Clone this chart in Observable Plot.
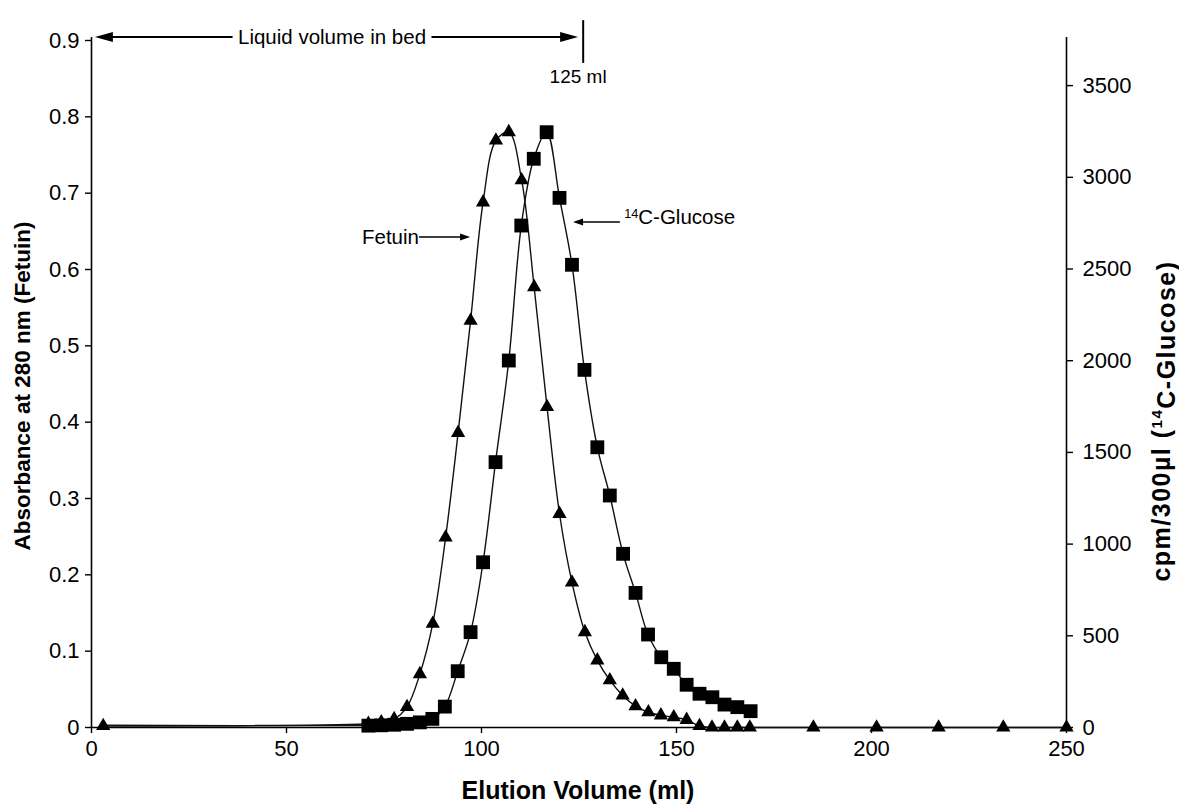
<!DOCTYPE html>
<html><head><meta charset="utf-8">
<script src="https://cdn.jsdelivr.net/npm/d3@7"></script>
<script src="https://cdn.jsdelivr.net/npm/@observablehq/plot@0.6"></script>
<style>
body{margin:0;background:#fff}
svg{font-family:"Liberation Sans",Arial,sans-serif}
</style>
</head><body><div id="chart"></div>
<script>
// Fetuin (absorbance at 280 nm, left axis)
const fetuinVol = [3, 71, 74.3, 77.6, 80.9, 84.2, 87.5, 90.8, 94.0, 97.2, 100.4, 103.7, 107.0, 110.3, 113.5, 116.8, 120.0, 123.2, 126.5, 129.7, 132.9, 136.2, 139.5, 142.8, 146.0, 149.3, 152.6, 155.9, 159.1, 162.3, 165.6, 168.8, 185.1, 201.3, 217.2, 233.8, 250];
const fetuinAbs = [0.002, 0.005, 0.007, 0.011, 0.027, 0.070, 0.136, 0.249, 0.386, 0.533, 0.688, 0.769, 0.780, 0.717, 0.577, 0.420, 0.280, 0.190, 0.125, 0.088, 0.062, 0.042, 0.028, 0.020, 0.016, 0.0135, 0.010, 0.002, 0, 0, 0, 0, 0, 0, 0, 0, 0];
// 14C-Glucose (cpm/300 µl, right axis)
const glucoseVol = [3, 71, 74.3, 77.6, 80.9, 84.2, 87.4, 90.6, 93.9, 97.2, 100.4, 103.6, 107.0, 110.2, 113.4, 116.7, 120.0, 123.2, 126.4, 129.7, 132.9, 136.3, 139.5, 142.7, 146.1, 149.3, 152.6, 155.9, 159.2, 162.3, 165.6, 169.0];
const glucoseCpm = [12, 10, 12, 15, 20, 28, 47, 114, 307, 520, 901, 1447, 2001, 2737, 3101, 3246, 2888, 2523, 1950, 1528, 1265, 947, 734, 507, 383, 320, 233, 184, 165, 125, 111, 89];

const xTicks = [0, 50, 100, 150, 200, 250];
const leftTicks = [0, 0.1, 0.2, 0.3, 0.4, 0.5, 0.6, 0.7, 0.8, 0.9];
const rightTicks = [0, 500, 1000, 1500, 2000, 2500, 3000, 3500];
const leftMax = 0.9;
const rightMax = 3746;           // cpm value at the top of the left axis (0.9)
const k = leftMax / rightMax;    // cpm -> left-axis units

const fetuin = fetuinVol.map((v, i) => ({v, a: fetuinAbs[i]}));
const glucose = glucoseVol.map((v, i) => ({v, c: glucoseCpm[i], a: glucoseCpm[i] * k}));

const TICK = 22, NOTE = 20.5;

const plot = Plot.plot({
  width: 1179, height: 810,
  marginLeft: 91, marginRight: 113, marginTop: 40, marginBottom: 83,
  x: {domain: [0, 250]},
  y: {domain: [0, leftMax]},
  style: {fontFamily: '"Liberation Sans", Arial, sans-serif', fontSize: TICK + "px", color: "#000", background: "#fff", overflow: "visible"},
  marks: [
    Plot.ruleY([0], {stroke: "#000", strokeWidth: 1.6}),
    Plot.ruleX([0, 250], {y1: 0, y2: 0.904, stroke: "#000", strokeWidth: 1.6}),
    Plot.axisX(xTicks, {tickSize: 6, tickPadding: 7, label: null, fontSize: TICK, strokeWidth: 1.4}),
    Plot.axisY(leftTicks, {anchor: "left", tickSize: 6, tickPadding: 6, label: null, fontSize: TICK, strokeWidth: 1.4,
      tickFormat: d => d === 0 ? "0" : d.toFixed(1)}),
    Plot.axisY(rightTicks.map(t => t * k), {anchor: "right", tickSize: 6, tickPadding: 10, label: null, fontSize: TICK, strokeWidth: 1.4,
      tickFormat: d => String(Math.round(d / k))}),
    Plot.line(fetuin, {x: "v", y: "a", curve: "catmull-rom", stroke: "#111", strokeWidth: 1.4}),
    Plot.line(glucose, {x: "v", y: "a", curve: "catmull-rom", stroke: "#111", strokeWidth: 1.4}),
    Plot.dot(glucose.filter(d => d.v > 50), {x: "v", y: "a", symbol: "square", r: 7.8, fill: "#000", stroke: null}),
    Plot.dot(fetuin, {x: "v", y: "a", symbol: "triangle", r: 5.3, fill: "#000", stroke: null})
  ]
});
document.getElementById("chart").appendChild(plot);

// ---- annotations, positioned through the plot's own scales ----
const X = v => plot.scale("x").apply(v);
const Y = v => plot.scale("y").apply(v);
const svg = d3.select(plot);
const g = svg.append("g").attr("fill", "#000").attr("stroke", "none").attr("text-anchor", "start");

function arrowHead(xTip, yTip, dir, len, halfW) {
  g.append("path")
    .attr("d", `M${xTip},${yTip}L${xTip - dir * len},${yTip - halfW}L${xTip - dir * len},${yTip + halfW}Z`)
    .attr("fill", "#000");
}
function hline(x1, x2, y, w) {
  g.append("line").attr("x1", x1).attr("x2", x2).attr("y1", y).attr("y2", y)
    .attr("stroke", "#000").attr("stroke-width", w);
}

// Liquid volume in bed (double arrow up to 125 ml)
const bedY = Y(0.904);
hline(X(1.0) + 14, X(36.3), bedY, 2);
hline(X(87.3), X(124.9) - 14, bedY, 2);
arrowHead(X(1.0), bedY, -1, 18, 5);
arrowHead(X(124.9), bedY, 1, 18, 5);
g.append("text").attr("x", X(61.8)).attr("y", bedY).attr("text-anchor", "middle")
  .attr("dy", "0.35em").attr("font-size", NOTE).text("Liquid volume in bed");
g.append("line").attr("x1", X(126.2)).attr("x2", X(126.2)).attr("y1", Y(0.926)).attr("y2", Y(0.870))
  .attr("stroke", "#000").attr("stroke-width", 2);
g.append("text").attr("x", X(124.9)).attr("y", Y(0.853)).attr("text-anchor", "middle")
  .attr("dy", "0.35em").attr("font-size", 19).text("125 ml");

// Fetuin label
const fy = Y(0.642);
g.append("text").attr("x", X(84.1)).attr("y", fy).attr("text-anchor", "end")
  .attr("dy", "0.35em").attr("font-size", NOTE).text("Fetuin");
hline(X(84.1), X(97.2) - 9, fy, 1.4);
arrowHead(X(97.2), fy, 1, 10, 3.5);

// 14C-Glucose label
const gy = Y(0.6616);
hline(X(135.6), X(123.6) + 9, gy, 1.4);
arrowHead(X(123.6), gy, -1, 10, 3.5);
const gt = g.append("text").attr("x", X(136.7)).attr("y", gy).attr("dy", "0.35em")
  .attr("font-size", NOTE).attr("text-anchor", "start");
gt.append("tspan").attr("font-size", NOTE * 0.62).attr("dy", "-0.3em").text("14");
gt.append("tspan").attr("dy", "0.3em").text("C-Glucose");

// Axis titles
g.append("text").attr("x", 578).attr("y", 790).attr("text-anchor", "middle").attr("dy", "0.35em")
  .attr("font-size", 25).attr("font-weight", "bold").text("Elution Volume (ml)");
g.append("text").attr("transform", "translate(22,386) rotate(-90)").attr("text-anchor", "middle").attr("dy", "0.35em")
  .attr("font-size", 22.5).attr("font-weight", "bold").text("Absorbance at 280 nm (Fetuin)");
const rt = g.append("text").attr("transform", "translate(1161,421) rotate(-90)").attr("text-anchor", "middle").attr("dy", "0.35em")
  .attr("font-size", 25).attr("font-weight", "bold").attr("letter-spacing", "1.5px");
rt.append("tspan").text("cpm/300µl (");
rt.append("tspan").attr("font-size", 15).attr("dy", "-0.55em").text("14");
rt.append("tspan").attr("dy", "0.55em").text("C-Glucose)");
</script>
</body></html>
